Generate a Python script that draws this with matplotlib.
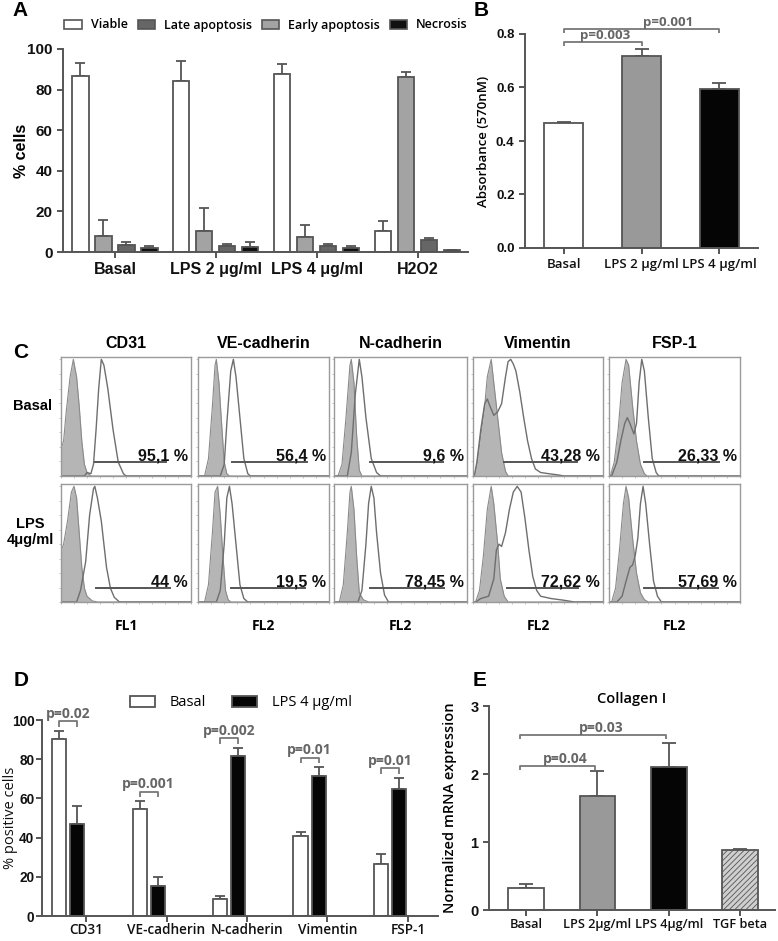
import numpy as np
import matplotlib
matplotlib.use("Agg")
import matplotlib.pyplot as plt
from matplotlib.patches import Patch

plt.rcParams['hatch.linewidth'] = 0.6
ARIAL = 'Liberation Sans'
SEGOE = 'Open Sans'

W, H = 778, 941
fig = plt.figure(figsize=(W / 100, H / 100), dpi=100)

def ax_px(l, t, r, b):
    return fig.add_axes([l / W, 1 - b / H, (r - l) / W, (b - t) / H])

def fx(x):
    return x / W

def fy(y):
    return 1 - y / H

EDGE = '#555555'
PCOL = '#666666'

# ---------------- Panel A data ----------------
a_groups = ['Basal', 'LPS 2 μg/ml', 'LPS 4 μg/ml', 'H2O2']
a_series = ['Viable', 'Early apoptosis', 'Late apoptosis', 'Necrosis']
a_viable = [86.5, 84.2, 87.6, 10.4]
a_viable_err = [6.6, 10.0, 5.1, 4.7]
a_early = [7.8, 10.4, 7.3, 86.0]
a_early_err = [8.0, 11.4, 5.8, 2.6]
a_late = [3.6, 3.0, 3.2, 5.9]
a_late_err = [1.1, 1.0, 0.5, 0.8]
a_necrosis = [2.2, 2.4, 1.9, 0.8]
a_necrosis_err = [0.7, 2.3, 1.0, 0.3]
a_legend_order = ['Viable', 'Late apoptosis', 'Early apoptosis', 'Necrosis']

# ---------------- Panel B data ----------------
b_groups = ['Basal', 'LPS 2 μg/ml', 'LPS 4 μg/ml']
b_values = [0.467, 0.716, 0.594]
b_err = [0.004, 0.029, 0.024]
b_pvals = ['p=0.003', 'p=0.001']
b_pairs = [(0, 1), (0, 2)]
b_levels = [0.769, 0.817]

# ---------------- Panel C data ----------------
c_markers = ['CD31', 'VE-cadherin', 'N-cadherin', 'Vimentin', 'FSP-1']
c_channels = ['FL1', 'FL2', 'FL2', 'FL2', 'FL2']
c_rows = ['Basal', 'LPS\n4μg/ml']
c_pct_basal = ['95,1 %', '56,4 %', '9,6 %', '43,28 %', '26,33 %']
c_pct_lps = ['44 %', '19,5 %', '78,45 %', '72,62 %', '57,69 %']
c_gate_basal = [(0.26, 0.81), (0.26, 0.83), (0.27, 0.82), (0.24, 0.80), (0.27, 0.84)]
c_gate_lps = [(0.27, 0.84), (0.25, 0.82), (0.27, 0.83), (0.26, 0.81), (0.27, 0.83)]

cd31_basal_ctrl = [(0.0, 0.0), (0.005, 0.25), (0.02, 0.3), (0.04, 0.55), (0.07, 0.85), (0.095, 1.0),
                   (0.12, 0.85), (0.14, 0.6), (0.16, 0.3), (0.18, 0.1), (0.2, 0.03), (0.23, 0.0)]
cd31_basal_stain = [(0.18, 0.0), (0.2, 0.03), (0.23, 0.02), (0.25, 0.1), (0.27, 0.4), (0.29, 0.75),
                    (0.31, 1.0), (0.33, 0.95), (0.36, 0.75), (0.40, 0.4), (0.44, 0.12), (0.48, 0.02), (0.5, 0.0)]
ve_basal_ctrl = [(0.05, 0), (0.08, 0.15), (0.11, 0.6), (0.13, 0.95), (0.14, 1.0), (0.16, 0.8),
                 (0.18, 0.45), (0.2, 0.12), (0.22, 0.02), (0.24, 0)]
ve_basal_stain = [(0.17, 0), (0.2, 0.1), (0.22, 0.45), (0.25, 0.9), (0.27, 1.0), (0.29, 0.85),
                  (0.32, 0.5), (0.35, 0.15), (0.38, 0.02), (0.4, 0)]
ncad_basal_ctrl = [(0.03, 0), (0.06, 0.1), (0.09, 0.5), (0.12, 0.95), (0.13, 1.0), (0.15, 0.8),
                   (0.17, 0.35), (0.19, 0.05), (0.21, 0)]
ncad_basal_stain = [(0.1, 0), (0.13, 0.2), (0.16, 0.7), (0.19, 1.0), (0.21, 0.85), (0.24, 0.5),
                    (0.28, 0.15), (0.32, 0.03), (0.35, 0)]
vim_basal_ctrl = [(0.01, 0), (0.03, 0.1), (0.06, 0.35), (0.09, 0.6), (0.11, 0.85), (0.14, 1.0),
                  (0.16, 0.8), (0.19, 0.5), (0.22, 0.2), (0.25, 0.04), (0.27, 0)]
vim_basal_stain = [(0.01, 0), (0.03, 0.12), (0.06, 0.4), (0.09, 0.62), (0.11, 0.66), (0.13, 0.6),
                   (0.16, 0.52), (0.19, 0.55), (0.22, 0.62), (0.25, 0.85), (0.27, 0.98), (0.29, 1.0),
                   (0.31, 0.96), (0.33, 0.9), (0.36, 0.72), (0.39, 0.5), (0.42, 0.3), (0.45, 0.15),
                   (0.48, 0.06), (0.52, 0.03), (0.58, 0.02), (0.65, 0.01), (0.7, 0)]
fsp_basal_ctrl = [(0.01, 0), (0.04, 0.12), (0.07, 0.4), (0.1, 0.8), (0.13, 1.0), (0.15, 0.95),
                  (0.18, 0.6), (0.21, 0.3), (0.24, 0.1), (0.27, 0.02), (0.29, 0)]
fsp_basal_stain = [(0.02, 0), (0.06, 0.12), (0.09, 0.3), (0.12, 0.45), (0.14, 0.5), (0.16, 0.45),
                   (0.19, 0.36), (0.21, 0.45), (0.23, 0.8), (0.25, 1.0), (0.27, 0.9), (0.3, 0.5),
                   (0.33, 0.15), (0.36, 0.03), (0.38, 0)]
cd31_lps_ctrl = [(0.0, 0.0), (0.003, 0.45), (0.02, 0.5), (0.05, 0.7), (0.08, 0.95), (0.1, 1.0),
                 (0.12, 0.9), (0.14, 0.6), (0.16, 0.3), (0.18, 0.12), (0.2, 0.05), (0.24, 0.01), (0.28, 0)]
cd31_lps_stain = [(0.12, 0), (0.15, 0.1), (0.19, 0.35), (0.22, 0.75), (0.25, 0.98), (0.26, 1.0),
                  (0.28, 0.9), (0.31, 0.7), (0.33, 0.5), (0.35, 0.3), (0.38, 0.12), (0.41, 0.04), (0.45, 0)]
ve_lps_ctrl = [(0.05, 0), (0.08, 0.15), (0.11, 0.6), (0.13, 0.95), (0.15, 1.0), (0.17, 0.75),
               (0.19, 0.4), (0.21, 0.1), (0.23, 0.02), (0.25, 0)]
ve_lps_stain = [(0.14, 0), (0.17, 0.1), (0.2, 0.5), (0.22, 0.9), (0.24, 1.0), (0.26, 0.85),
                (0.29, 0.5), (0.32, 0.15), (0.35, 0.03), (0.38, 0)]
ncad_lps_ctrl = [(0.04, 0), (0.07, 0.15), (0.1, 0.6), (0.12, 0.95), (0.13, 1.0), (0.15, 0.8),
                 (0.17, 0.4), (0.19, 0.08), (0.22, 0.02), (0.26, 0)]
ncad_lps_stain = [(0.18, 0), (0.21, 0.1), (0.24, 0.5), (0.26, 0.85), (0.28, 1.0), (0.3, 0.9),
                  (0.32, 0.6), (0.35, 0.25), (0.38, 0.06), (0.41, 0)]
vim_lps_ctrl = [(0.02, 0), (0.05, 0.1), (0.08, 0.4), (0.11, 0.8), (0.14, 1.0), (0.16, 0.85),
                (0.19, 0.5), (0.21, 0.2), (0.24, 0.05), (0.27, 0)]
vim_lps_stain = [(0.02, 0), (0.06, 0.03), (0.12, 0.05), (0.16, 0.2), (0.18, 0.45), (0.2, 0.5),
                 (0.22, 0.48), (0.25, 0.6), (0.28, 0.8), (0.31, 0.95), (0.34, 1.0), (0.37, 0.95),
                 (0.4, 0.72), (0.43, 0.45), (0.46, 0.22), (0.49, 0.1), (0.52, 0.05), (0.6, 0.03),
                 (0.7, 0.015), (0.78, 0)]
fsp_lps_ctrl = [(0.02, 0), (0.05, 0.12), (0.08, 0.45), (0.11, 0.85), (0.13, 1.0), (0.15, 0.9),
                (0.18, 0.55), (0.21, 0.25), (0.24, 0.08), (0.27, 0.02), (0.3, 0)]
fsp_lps_stain = [(0.06, 0), (0.1, 0.05), (0.13, 0.18), (0.16, 0.3), (0.18, 0.32), (0.2, 0.4),
                 (0.22, 0.55), (0.24, 0.85), (0.26, 1.0), (0.28, 0.85), (0.31, 0.5), (0.34, 0.18),
                 (0.37, 0.05), (0.4, 0)]

c_basal_ctrl = [cd31_basal_ctrl, ve_basal_ctrl, ncad_basal_ctrl, vim_basal_ctrl, fsp_basal_ctrl]
c_basal_stain = [cd31_basal_stain, ve_basal_stain, ncad_basal_stain, vim_basal_stain, fsp_basal_stain]
c_lps_ctrl = [cd31_lps_ctrl, ve_lps_ctrl, ncad_lps_ctrl, vim_lps_ctrl, fsp_lps_ctrl]
c_lps_stain = [cd31_lps_stain, ve_lps_stain, ncad_lps_stain, vim_lps_stain, fsp_lps_stain]

# ---------------- Panel D data ----------------
d_markers = ['CD31', 'VE-cadherin', 'N-cadherin', 'Vimentin', 'FSP-1']
d_basal = [90.4, 54.6, 8.6, 40.8, 26.6]
d_basal_err = [4.2, 4.2, 1.5, 2.1, 5.0]
d_lps = [46.7, 15.3, 81.7, 71.4, 64.7]
d_lps_err = [9.3, 4.5, 4.2, 4.7, 5.9]
d_pvals = ['p=0.02', 'p=0.001', 'p=0.002', 'p=0.01', 'p=0.01']

# ---------------- Panel E data ----------------
e_groups = ['Basal', 'LPS 2μg/ml', 'LPS 4μg/ml', 'TGF beta']
e_values = [0.33, 1.67, 2.10, 0.88]
e_err = [0.05, 0.37, 0.36, 0.02]
e_pvals = ['p=0.04', 'p=0.03']
e_pairs = [(0, 1), (0, 2)]
e_levels = [2.12, 2.58]


def style_axis(ax, lw=1.4):
    for s in ['top', 'right']:
        ax.spines[s].set_visible(False)
    for s in ['left', 'bottom']:
        ax.spines[s].set_color(EDGE)
        ax.spines[s].set_linewidth(lw)
    ax.tick_params(colors=EDGE, width=lw, length=4, direction='out')


def bracket(ax, x0, x1, y, drop, text, ty, fs, tx=None):
    ax.plot([x0, x0, x1, x1], [y - drop, y, y, y - drop], color='#777777', lw=1.3,
            clip_on=False, solid_capstyle='butt')
    ax.text((x0 + x1) / 2 if tx is None else tx, ty, text, ha='center', va='center',
            color=PCOL, fontsize=fs, fontweight='bold', family=SEGOE, clip_on=False)


def style_labels(labels, family, weight, size):
    for lab in labels:
        lab.set_fontfamily(family)
        lab.set_fontweight(weight)
        lab.set_fontsize(size)
        lab.set_color('#111111')


# ================= Panel A =================
axA = ax_px(63, 49, 468, 252)
style_axis(axA)
xa = np.arange(len(a_groups))
a_vals = [a_viable, a_early, a_late, a_necrosis]
a_errs = [a_viable_err, a_early_err, a_late_err, a_necrosis_err]
a_cols = {'Viable': 'white', 'Early apoptosis': '#a3a3a3', 'Late apoptosis': '#666666', 'Necrosis': '#111111'}
a_offsets = [-0.342, -0.114, 0.114, 0.342]
for name, vals, errs, off in zip(a_series, a_vals, a_errs, a_offsets):
    axA.errorbar(xa + off, vals, yerr=[np.zeros(len(vals)), errs], fmt='none', ecolor=EDGE,
                 elinewidth=1.3, capsize=3.5, capthick=1.3, zorder=1)
    axA.bar(xa + off, vals, width=0.16, color=a_cols[name], edgecolor=EDGE, linewidth=1.3, zorder=2)
axA.set_xlim(-0.515, 3.5)
axA.set_ylim(0, 100)
axA.set_yticks([0, 20, 40, 60, 80, 100])
axA.set_xticks(xa)
axA.set_xticklabels(a_groups)
style_labels(axA.get_yticklabels(), ARIAL, 'bold', 11)
style_labels(axA.get_xticklabels(), ARIAL, 'bold', 11.5)
axA.set_ylabel('% cells', family=ARIAL, fontweight='bold', fontsize=11.5)
axA.yaxis.set_label_coords(-0.084, 0.5)
handles = [Patch(facecolor=a_cols[n], edgecolor=EDGE, linewidth=1.2, label=n) for n in a_legend_order]
leg = fig.legend(handles=handles, loc='center', bbox_to_anchor=(fx(266), fy(25)), ncol=4,
                 frameon=False, handlelength=1.4, handleheight=0.75, handletextpad=0.7,
                 columnspacing=0.8, prop={'family': SEGOE, 'weight': 'semibold', 'size': 9})

# ================= Panel B =================
axB = ax_px(525, 34, 758, 248)
style_axis(axB)
xb = np.arange(len(b_groups))
b_cols = ['white', '#999999', '#050505']
axB.errorbar(xb, b_values, yerr=[np.zeros(3), b_err], fmt='none', ecolor=EDGE,
             elinewidth=1.3, capsize=5, capthick=1.3, zorder=1)
axB.bar(xb, b_values, width=0.5, color=b_cols, edgecolor=EDGE, linewidth=1.3, zorder=2)
axB.set_xlim(-0.5, 2.5)
axB.set_ylim(0, 0.8)
axB.set_yticks([0, 0.2, 0.4, 0.6, 0.8])
axB.set_yticklabels(['0.0', '0.2', '0.4', '0.6', '0.8'])
axB.set_xticks(xb)
axB.set_xticklabels(b_groups)
style_labels(axB.get_yticklabels(), ARIAL, 'bold', 9.5)
style_labels(axB.get_xticklabels(), SEGOE, 'semibold', 9.5)
axB.set_ylabel('Absorbance (570nM)', family=SEGOE, fontweight='semibold', fontsize=9.5)
axB.yaxis.set_label_coords(-0.15, 0.5)
b_text_x = [0.53, 1.34]
for (i0, i1), lvl, p, tx in zip(b_pairs, b_levels, b_pvals, b_text_x):
    bracket(axB, xb[i0], xb[i1], lvl, 0.013, p, lvl + 0.026, 9.5, tx=tx)

# ================= Panel C =================
c_cols_px = [(61, 191), (198, 329), (334, 467), (473, 603), (609, 740)]
c_rows_px = [(357, 476), (484, 602)]
c_pcts = [c_pct_basal, c_pct_lps]
c_gates = [c_gate_basal, c_gate_lps]
c_ctrls = [c_basal_ctrl, c_lps_ctrl]
c_stains = [c_basal_stain, c_lps_stain]
for r, (top, bot) in enumerate(c_rows_px):
    for c, (l, rr) in enumerate(c_cols_px):
        ax = ax_px(l, top, rr, bot)
        ctrl = np.array([(0.0, 0.0)] + c_ctrls[r][c] + [(1.0, 0.0)])
        stain = np.array([(0.0, 0.0)] + c_stains[r][c] + [(1.0, 0.0)])
        ax.fill_between(ctrl[:, 0], ctrl[:, 1], color='#b5b5b5', lw=0)
        ax.plot(ctrl[:, 0], ctrl[:, 1], color='#8a8a8a', lw=0.8)
        ax.plot(stain[:, 0], stain[:, 1], color='#6e6e6e', lw=1.0)
        g0, g1 = c_gates[r][c]
        ax.plot([g0, g1], [0.12, 0.12], color='#555555', lw=1.4)
        ax.text(0.975, 0.105, c_pcts[r][c], ha='right', va='bottom', family=ARIAL,
                fontweight='bold', fontsize=11.5, color='#111111')
        ax.set_xlim(0, 1)
        ax.set_ylim(0, 1.02)
        for s in ax.spines.values():
            s.set_color('#9a9a9a'); s.set_linewidth(1.0)
        ax.set_xticks(np.linspace(0, 1, 11))
        ax.set_yticks(np.linspace(0, 1, 9))
        ax.tick_params(direction='out', length=1.5, width=0.6, colors='#bbbbbb',
                       labelbottom=False, labelleft=False)
        if r == 0:
            fig.text(fx((l + rr) / 2), fy(344), c_markers[c], ha='center', va='center',
                     family=ARIAL, fontweight='bold', fontsize=11.5)
        else:
            fig.text(fx((l + rr) / 2), fy(626), c_channels[c], ha='center', va='center',
                     family=SEGOE, fontweight='bold', fontsize=10)
fig.text(fx(33), fy(406), c_rows[0], ha='center', va='center', family=ARIAL,
         fontweight='bold', fontsize=10.5)
fig.text(fx(30), fy(532), c_rows[1], ha='center', va='center', family=ARIAL,
         fontweight='bold', fontsize=10.5, linespacing=1.25)

# ================= Panel D =================
axD = ax_px(42, 720, 438, 916)
style_axis(axD)
xd = np.arange(len(d_markers))
d_bx = xd - 0.335
d_lx = xd - 0.11
axD.errorbar(d_bx, d_basal, yerr=[np.zeros(5), d_basal_err], fmt='none', ecolor=EDGE,
             elinewidth=1.3, capsize=3.5, capthick=1.3, zorder=1)
axD.errorbar(d_lx, d_lps, yerr=[np.zeros(5), d_lps_err], fmt='none', ecolor=EDGE,
             elinewidth=1.3, capsize=3.5, capthick=1.3, zorder=1)
axD.bar(d_bx, d_basal, width=0.175, color='white', edgecolor=EDGE, linewidth=1.3, zorder=2)
axD.bar(d_lx, d_lps, width=0.175, color='#050505', edgecolor=EDGE, linewidth=1.3, zorder=2)
axD.set_xlim(-0.547, 4.373)
axD.set_ylim(0, 100)
axD.set_yticks([0, 20, 40, 60, 80, 100])
axD.set_xticks(xd)
axD.set_xticklabels(d_markers)
style_labels(axD.get_yticklabels(), ARIAL, 'bold', 9.8)
style_labels(axD.get_xticklabels(), SEGOE, 'semibold', 9.8)
axD.tick_params(axis='y', pad=1.5)
axD.tick_params(axis='x', pad=1)
fig.text(fx(10.2), fy(818), '% positive cells', rotation=90, ha='center', va='center',
         family=SEGOE, fontsize=10.5, color='#111111')
for i in range(len(d_markers)):
    top = max(d_basal[i] + d_basal_err[i], d_lps[i] + d_lps_err[i])
    lvl = top + 4.7
    bracket(axD, d_bx[i], d_lx[i], lvl, 2.8, d_pvals[i], lvl + 3.8, 10)
hD = [Patch(facecolor='white', edgecolor=EDGE, linewidth=1.3, label='Basal'),
      Patch(facecolor='#050505', edgecolor=EDGE, linewidth=1.3, label='LPS 4 μg/ml')]
fig.legend(handles=hD, loc='center', bbox_to_anchor=(fx(241), fy(703)), ncol=2, frameon=False,
           handlelength=1.7, handleheight=0.75, handletextpad=1.0, columnspacing=1.8,
           prop={'family': SEGOE, 'size': 10.5})

# ================= Panel E =================
axE = ax_px(489, 706, 775, 910)
style_axis(axE)
xe = np.arange(len(e_groups))
e_cols = ['white', '#999999', '#050505', '#cfcfcf']
axE.errorbar(xe, e_values, yerr=[np.zeros(4), e_err], fmt='none', ecolor=EDGE,
             elinewidth=1.3, capsize=5, capthick=1.3, zorder=1)
bars = axE.bar(xe, e_values, width=0.5, color=e_cols, edgecolor=EDGE, linewidth=1.3, zorder=2)
bars[3].set_hatch('//////')
axE.set_xlim(-0.52, 3.49)
axE.set_ylim(0, 3)
axE.set_yticks([0, 1, 2, 3])
axE.set_xticks(xe)
axE.set_xticklabels(e_groups)
style_labels(axE.get_yticklabels(), ARIAL, 'bold', 10.5)
style_labels(axE.get_xticklabels(), SEGOE, 'semibold', 9.2)
axE.tick_params(axis='x', pad=2)
axE.set_ylabel('Normalized mRNA expression', family=SEGOE, fontweight='semibold', fontsize=10.5)
axE.yaxis.set_label_coords(-0.112, 0.5)
axE.set_title('Collagen I', family=SEGOE, fontweight='semibold', fontsize=10.5, pad=-4, x=0.5)
e_text_x = [0.55, 1.05]
for (i0, i1), lvl, p, tx in zip(e_pairs, e_levels, e_pvals, e_text_x):
    bracket(axE, xe[i0] - 0.08, xe[i1] - 0.04, lvl, 0.06, p, lvl + 0.1, 10, tx=tx)

# panel letters
for letter, (x, y) in zip('ABCDE', [(20, 10), (481, 10), (21, 353), (21, 680), (480, 681)]):
    fig.text(fx(x), fy(y), letter, ha='center', va='center', family=ARIAL,
             fontweight='bold', fontsize=15)

fig.savefig('out.png', dpi=100, facecolor='white')
